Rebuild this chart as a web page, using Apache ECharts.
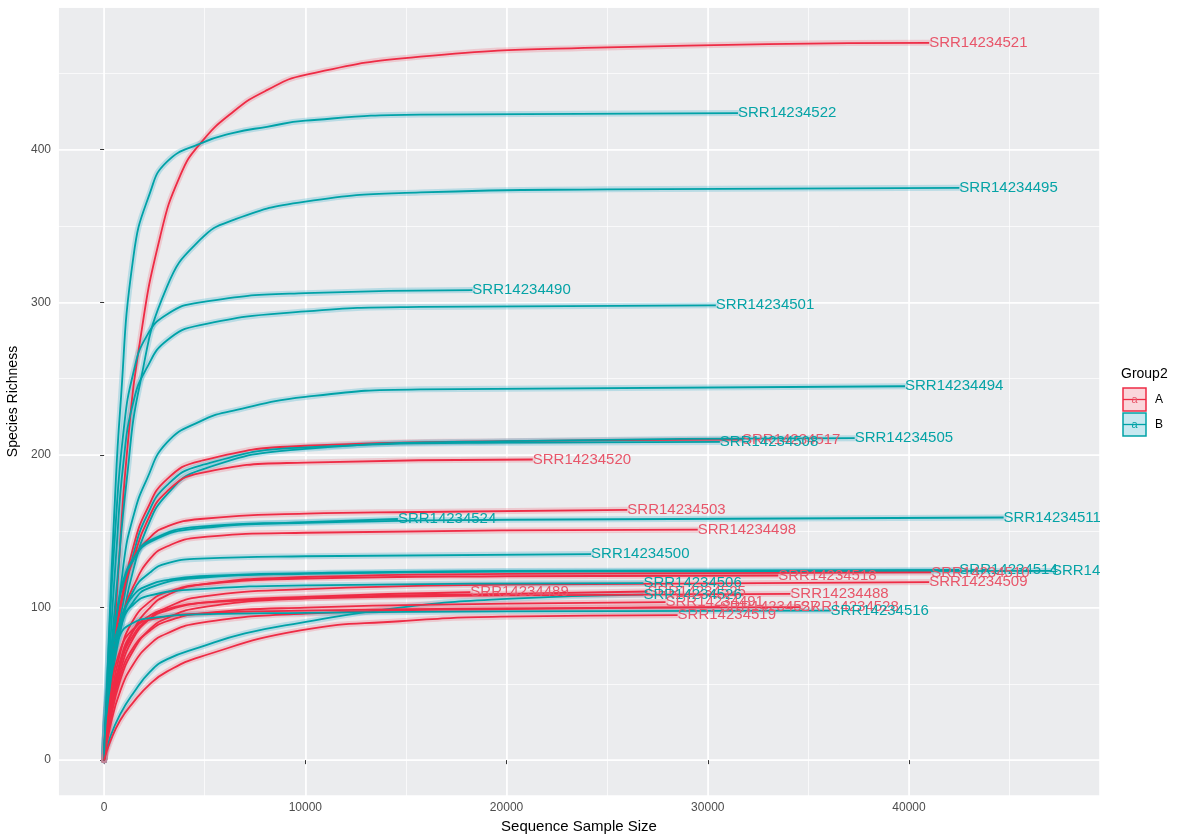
<!DOCTYPE html>
<html>
<head>
<meta charset="utf-8">
<script src="https://cdn.jsdelivr.net/npm/echarts@6/dist/echarts.min.js"></script>
<style>
html,body{margin:0;padding:0;background:#fff;}
#chart{width:1184px;height:834px;}
</style>
</head>
<body>
<div id="chart"></div>
<script>
// ---- Data: rarefaction curves ([sample size, richness]) ----
const p521 = [[0,0],[300,48],[630,108],[1128,200],[1791,275],[2786,343],[3781,383],[4776,404],[6434,425],[8093,439],[10000,449],[15720,461],[25000,467],[41000,470]];
const p522 = [[0,0],[250,85],[500,160],[800,230],[1459,330],[2289,372],[3118,392],[4776,404],[6434,411],[8093,415],[10000,419],[15720,423],[31500,424]];
const p495 = [[0,0],[300,62],[630,114],[1128,184],[1791,247],[3118,310],[4776,341],[6434,354],[10000,366],[15720,372],[25000,374],[42500,375]];
const p490 = [[0,0],[250,80],[547,149],[962,215],[1459,254],[2123,278],[3118,292],[4776,300],[10000,306],[18300,308]];
const p501 = [[0,0],[300,75],[600,135],[962,195],[1459,235],[2123,257],[3118,275],[4776,285],[10000,294],[15720,297],[30400,298]];
const p494 = [[0,0],[464,62],[962,128],[1459,160],[2123,184],[3118,208],[4776,222],[6434,229],[10000,238],[15720,243],[39800,245]];
const p517 = [[0,0],[300,60],[962,110],[1459,140],[2123,164],[3118,184],[4776,196],[10000,206],[20000,209],[31700,210]];
const p508 = [[0,0],[300,55],[962,104],[1459,135],[2123,160],[3118,180],[4776,193],[10000,205],[20000,208],[30600,208.5]];
const p505 = [[0,0],[300,45],[962,95],[1459,125],[2123,152],[3118,174],[4776,190],[10000,204],[20000,209],[37300,211]];
const p520 = [[0,0],[300,55],[962,110],[1459,132],[2123,156],[3118,176],[4776,188],[10000,195],[21300,197]];
const p503 = [[0,0],[300,55],[962,112],[1459,132],[2289,146],[3118,153],[4776,158],[10000,161.5],[15720,162.6],[26000,164]];
const p524 = [[0,0],[250,60],[630,97],[962,118],[1459,132],[2289,144],[4776,153],[10000,156],[14600,158]];
const p511 = [[0,0],[250,55],[630,95],[962,116],[1459,131],[2289,143],[4776,152],[10000,155.5],[20000,157.5],[44700,159]];
const p498 = [[0,0],[300,45],[630,80],[962,97],[1459,114],[2289,132],[3118,140],[4776,146],[10000,149],[29500,151]];
const p500 = [[0,0],[300,55],[796,86],[1459,111],[2289,123],[3118,129],[4776,132],[10000,133.6],[24200,135]];
const p518 = [[0,0],[300,35],[796,70],[1459,92],[2289,104],[3118,110],[4776,115],[10000,119],[20000,120.5],[33500,121]];
const p514 = [[0,0],[300,50],[796,90],[1459,108],[2289,115],[3118,118],[4776,120.5],[10000,122.5],[20000,124],[42500,124.6]];
const p513 = [[0,0],[300,45],[796,85],[1459,104],[2289,113],[4776,119.5],[10000,122],[20000,123.5],[47100,124]];
const p510 = [[0,0],[300,30],[796,62],[1459,85],[2289,100],[3118,108],[4776,115],[10000,120],[20000,122],[41100,123]];
const p509 = [[0,0],[300,28],[796,58],[1459,80],[2289,93],[3118,100],[4776,107],[10000,112],[20000,115],[41000,116.7]];
const p506 = [[0,0],[300,60],[796,90],[1459,102],[2289,108],[4776,112],[10000,114.5],[26800,116]];
const p489 = [[0,0],[300,30],[796,62],[1459,82],[2289,93],[3118,98],[4776,103],[10000,107],[18200,110]];
const p525 = [[0,0],[300,25],[796,52],[1459,72],[2289,86],[3118,93],[4776,100],[10000,106],[20000,109],[27000,110.5]];
const p526 = [[0,0],[300,15],[796,30],[1459,44],[2289,58],[3118,66],[4776,74],[7000,83],[9750,90],[14700,100],[19700,105.5],[26800,108.5]];
const p488 = [[0,0],[300,32],[796,65],[1459,85],[2289,95],[3118,99],[4776,103],[10000,106],[20000,108],[34100,109]];
const p491 = [[0,0],[300,28],[796,55],[1459,74],[2289,85],[3118,91],[4776,96],[10000,100],[20000,102.5],[27900,103.6]];
const p527 = [[0,0],[300,40],[796,72],[1459,86],[2289,92],[4776,96],[10000,98],[20000,99.5],[30600,100.3]];
const p528 = [[0,0],[300,22],[796,45],[1459,63],[2289,76],[3118,83],[4776,90],[10000,96],[20000,99],[34600,100.3]];
const p516 = [[0,0],[300,55],[796,82],[1459,90],[2289,93],[4776,95.5],[10000,96.5],[20000,97.5],[36100,98]];
const p519 = [[0,0],[300,12],[796,26],[1459,38],[2289,50],[3118,58],[4776,67.7],[9750,85],[14700,91],[19700,94],[28500,95]];

const sampleNames = ['SRR14234521','SRR14234522','SRR14234495','SRR14234490','SRR14234501','SRR14234494',
  'SRR14234517','SRR14234508','SRR14234505','SRR14234520','SRR14234503','SRR14234524','SRR14234511',
  'SRR14234498','SRR14234500','SRR14234518','SRR14234514','SRR14234513','SRR14234510','SRR14234509',
  'SRR14234506','SRR14234489','SRR14234525','SRR14234526','SRR14234488','SRR14234491','SRR14234527',
  'SRR14234528','SRR14234516','SRR14234519'];
const sampleGroups = ['A','B','B','B','B','B','A','B','B','A','A','B','B','A','B','A','B','B','A','A',
  'B','A','A','B','A','A','A','A','B','A'];
const curvePoints = [p521,p522,p495,p490,p501,p494,p517,p508,p505,p520,p503,p524,p511,p498,p500,
  p518,p514,p513,p510,p509,p506,p489,p525,p526,p488,p491,p527,p528,p516,p519];
const groupNames = ['A','B'];
const legendTitle = 'Group2';

// ---- Styles ----
const lineColor = {A:'#EE2B45', B:'#00A2A7'};
const bandColor = {A:'rgba(238,120,135,0.30)', B:'rgba(70,180,205,0.30)'};
const textColor = {A:'#E8566A', B:'#05A3A6'};
const FONT = '"Liberation Sans", Arial, Helvetica, sans-serif';
const SMOOTH = 0.5;

const chart = echarts.init(document.getElementById('chart'), null, {renderer:'canvas'});

const series = [];
curvePoints.forEach((pts, i) => {
  const g = sampleGroups[i];
  series.push({
    type:'line', name: sampleNames[i] + ' band', data: pts, xAxisIndex:0, yAxisIndex:0,
    smooth:SMOOTH, showSymbol:false, silent:true, z:2,
    lineStyle:{color:bandColor[g], width:6, cap:'round'}
  });
});
curvePoints.forEach((pts, i) => {
  const g = sampleGroups[i];
  series.push({
    type:'line', name: sampleNames[i], data: pts, xAxisIndex:0, yAxisIndex:0,
    smooth:SMOOTH, showSymbol:false, silent:true, z:3,
    lineStyle:{color:lineColor[g], width:1.8}
  });
});
series.push({
  type:'custom', name:'labels', xAxisIndex:0, yAxisIndex:0, z:5, silent:true,
  data: curvePoints.map((pts, i) => [pts[pts.length-1][0], pts[pts.length-1][1], i]),
  renderItem: function(params, api){
    const i = api.value(2);
    const p = api.coord([api.value(0), api.value(1)]);
    const cs = params.coordSys;
    return {
      type:'group',
      clipPath:{type:'rect', shape:{x:cs.x, y:cs.y, width:cs.width, height:cs.height}},
      children:[{
        type:'text', x:p[0], y:p[1],
        style:{text:sampleNames[i], fill:textColor[sampleGroups[i]], fontSize:15, fontFamily:FONT,
               align:'left', verticalAlign:'middle'}
      }]
    };
  }
});

const axisLabelStyle = {color:'#4D4D4D', fontSize:12, fontFamily:FONT, formatter: v => String(v)};

const legendGraphics = [
  {type:'text', x:1121, y:374, style:{text:legendTitle, fontSize:14, fontFamily:FONT, fill:'#000', verticalAlign:'middle'}}
];
groupNames.forEach((g, k) => {
  const top = 388 + k*25;
  legendGraphics.push(
    {type:'rect', shape:{x:1123, y:top, width:23, height:23}, style:{fill:bandColor[g], stroke:lineColor[g], lineWidth:1.5}},
    {type:'line', shape:{x1:1123, y1:top+11.5, x2:1146, y2:top+11.5}, style:{stroke:lineColor[g], lineWidth:1.3}},
    {type:'text', x:1134.5, y:top+11.5, style:{text:'a', fill:textColor[g], fontSize:11, fontFamily:FONT, align:'center', verticalAlign:'middle'}},
    {type:'text', x:1155, y:top+12, style:{text:g, fill:'#000', fontSize:12, fontFamily:FONT, verticalAlign:'middle'}}
  );
});

chart.setOption({
  animation:false,
  backgroundColor:'#ffffff',
  grid:{left:58, right:84, top:7, bottom:38, show:true, backgroundColor:'#EBECEE', borderWidth:0,
        containLabel:false, outerBoundsMode:'none'},
  xAxis:[{
    type:'value', min:-2290, max:49490, splitNumber:5,
    name:'Sequence Sample Size', nameLocation:'middle', nameGap:19,
    nameTextStyle:{color:'#000', fontSize:15, fontFamily:FONT},
    axisLine:{show:false},
    axisTick:{show:true, length:4, lineStyle:{color:'#333', width:1}},
    axisLabel:{...axisLabelStyle, margin:6, showMinLabel:false, showMaxLabel:false},
    splitLine:{show:true, lineStyle:{color:'#ffffff', width:1.6}}
  },{
    type:'value', min:-2290, max:49490, splitNumber:10, position:'bottom',
    axisLine:{show:false}, axisTick:{show:false}, axisLabel:{show:false},
    splitLine:{show:true, lineStyle:{color:'#ffffff', width:0.7}}
  }],
  yAxis:[{
    type:'value', min:-23.5, max:493.5, splitNumber:5,
    name:'Species Richness', nameLocation:'middle', nameGap:34, nameRotate:90,
    nameTextStyle:{color:'#000', fontSize:14, fontFamily:FONT},
    axisLine:{show:false},
    axisTick:{show:true, length:4, lineStyle:{color:'#333', width:1}},
    axisLabel:{...axisLabelStyle, margin:7, showMinLabel:false, showMaxLabel:false},
    splitLine:{show:true, lineStyle:{color:'#ffffff', width:1.6}}
  },{
    type:'value', min:-23.5, max:493.5, splitNumber:10, position:'left',
    axisLine:{show:false}, axisTick:{show:false}, axisLabel:{show:false},
    splitLine:{show:true, lineStyle:{color:'#ffffff', width:0.7}}
  }],
  graphic: legendGraphics,
  series: series
});
</script>
</body>
</html>
